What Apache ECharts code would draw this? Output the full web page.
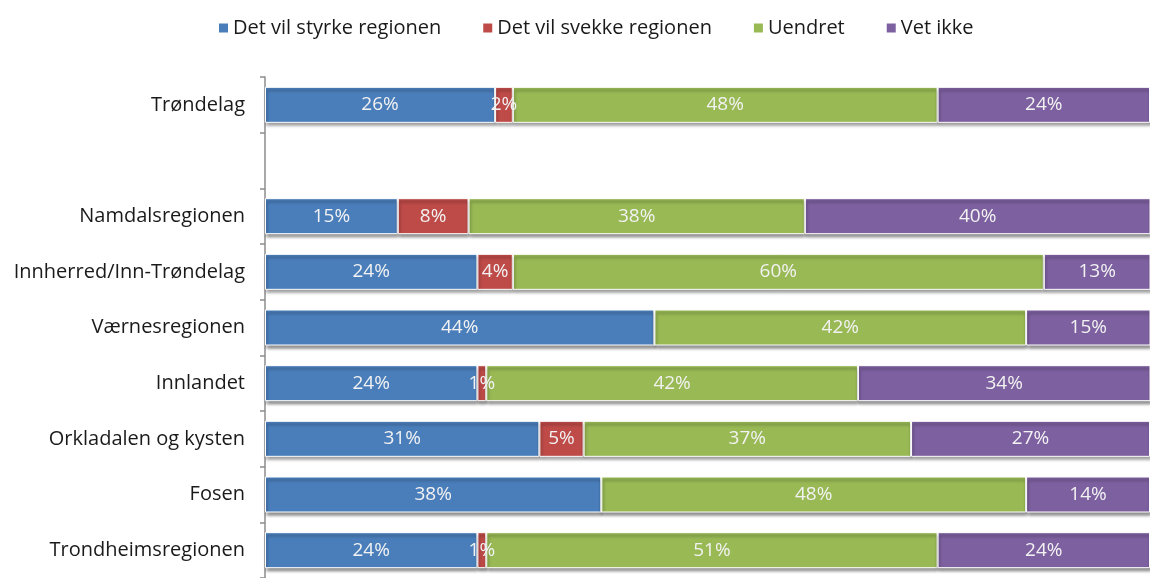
<!DOCTYPE html>
<html>
<head>
<meta charset="utf-8">
<script src="https://cdn.jsdelivr.net/npm/echarts@6/dist/echarts.min.js"></script>
<style>
  html, body { margin: 0; padding: 0; background: #fff; }
  #main { width: 1150px; height: 578px; }
</style>
</head>
<body>
<div id="main"></div>
<script>
// regions, top to bottom (empty slot between Trøndelag and the rest)
var categories = ['Trøndelag', '', 'Namdalsregionen', 'Innherred/Inn-Trøndelag', 'Værnesregionen',
  'Innlandet', 'Orkladalen og kysten', 'Fosen', 'Trondheimsregionen'];

var seriesNames = ['Det vil styrke regionen', 'Det vil svekke regionen', 'Uendret', 'Vet ikke'];

var styrke = [26, null, 15, 24, 44, 24, 31, 38, 24];
var svekke = [2, null, 8, 4, 0, 1, 5, 0, 1];
var uendret = [48, null, 38, 60, 42, 42, 37, 48, 51];
var vetIkke = [24, null, 40, 13, 15, 34, 27, 14, 24];

var colors = ['#4a7ebb', '#be4b48', '#98b954', '#7d60a0'];
var font = '"Open Sans", sans-serif';

var myChart = echarts.init(document.getElementById('main'));

function makeSeries(name, data) {
  return {
    name: name,
    type: 'bar',
    stack: 'total',
    barWidth: 36,
    data: data,
    itemStyle: {
      borderColor: '#ffffff',
      borderWidth: 1,
      shadowColor: 'rgba(0,0,0,0.45)',
      shadowBlur: 3,
      shadowOffsetX: 1,
      shadowOffsetY: 3
    },
    label: {
      show: true,
      position: 'inside',
      color: '#f2f2f2',
      fontFamily: font,
      fontSize: 19,
      formatter: function (p) {
        return p.value ? p.value + '%' : '';
      }
    },
    emphasis: { disabled: true }
  };
}

var option = {
  animation: false,
  color: colors,
  legend: {
    data: seriesNames,
    left: 212,
    top: 13,
    icon: 'rect',
    itemWidth: 11,
    itemHeight: 11,
    itemGap: 40,
    textStyle: {
      fontFamily: font,
      fontSize: 20,
      color: '#1a1a1a',
      padding: [0, 0, 0, -1]
    }
  },
  grid: {
    left: 265,
    top: 77,
    width: 900,
    height: 508
  },
  xAxis: {
    type: 'value',
    min: 0,
    max: 100,
    show: false
  },
  yAxis: {
    type: 'category',
    inverse: true,
    data: categories,
    axisLine: { show: true, lineStyle: { color: '#8c8c8c', width: 1.5 } },
    axisTick: { show: true, length: 5, lineStyle: { color: '#8c8c8c', width: 1.5 } },
    axisLabel: {
      margin: 20,
      fontFamily: font,
      fontSize: 20,
      color: '#1a1a1a'
    }
  },
  series: [
    makeSeries(seriesNames[0], styrke),
    makeSeries(seriesNames[1], svekke),
    makeSeries(seriesNames[2], uendret),
    makeSeries(seriesNames[3], vetIkke)
  ]
};

myChart.setOption(option);
</script>
</body>
</html>
